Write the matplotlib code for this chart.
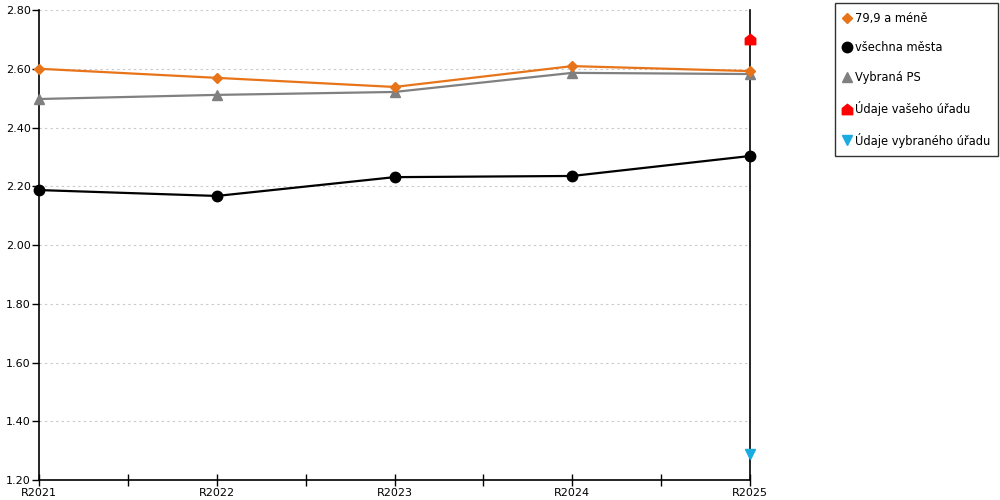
import matplotlib
matplotlib.use("Agg")
import matplotlib.pyplot as plt
from matplotlib.path import Path
from matplotlib.lines import Line2D
import numpy as np

categories = ["R2021", "R2022", "R2023", "R2024", "R2025"]
s_small = [2.60, 2.569, 2.538, 2.609, 2.592]
s_all = [2.187, 2.167, 2.231, 2.235, 2.303]
s_ps = [2.497, 2.511, 2.521, 2.586, 2.582]
your_office = [2.70]
sel_office = [1.289]
labels = ["79,9 a méně", "všechna města", "Vybraná PS", "Údaje vašeho úřadu", "Údaje vybraného úřadu"]

plt.rcParams['font.family'] = ['DejaVu Sans']
fig = plt.figure(figsize=(10, 5), dpi=100)
ax = fig.add_axes([0.039, 0.04, 0.711, 0.94])

x = np.arange(len(categories))
house = Path([(-1, -1), (1, -1), (1, 0.2), (0, 1), (-1, 0.2), (-1, -1)],
             [Path.MOVETO, Path.LINETO, Path.LINETO, Path.LINETO, Path.LINETO, Path.CLOSEPOLY])

c_or = "#E8741A"
c_gr = "#808080"
ax.plot(x, s_small, color=c_or, lw=1.6, marker="D", ms=5.5, zorder=4, clip_on=False)
ax.plot(x, s_all, color="black", lw=1.6, marker="o", ms=7.5, zorder=3, clip_on=False)
ax.plot(x, s_ps, color=c_gr, lw=1.6, marker="^", ms=7.5, zorder=3, clip_on=False)
ax.plot([x[-1]], your_office, ls="none", marker=house, ms=7.5, color="#FF0000", zorder=5, clip_on=False)
ax.plot([x[-1]], sel_office, ls="none", marker="v", ms=7.5, color="#1AABE0", zorder=5, clip_on=False)

ax.set_xlim(0, 4)
ax.set_ylim(1.2, 2.8)
ax.set_yticks(np.arange(1.2, 2.81, 0.2))
ax.set_yticklabels([f"{v:.2f}" for v in np.arange(1.2, 2.81, 0.2)])
ax.set_xticks(x)
ax.set_xticklabels(categories)
ax.set_xticks(np.arange(0.5, 4, 1), minor=True)
ax.tick_params(axis="x", which="both", direction="inout", length=9, width=1, labelsize=8, pad=1)
ax.tick_params(axis="y", direction="out", length=5, width=1, labelsize=8, pad=1)
ax.yaxis.grid(True, linestyle=(0, (2, 3)), color="#C8C8C8", lw=0.8)
ax.set_axisbelow(True)
ax.spines["top"].set_visible(False)
for s in ["left", "right", "bottom"]:
    ax.spines[s].set_color("black")
    ax.spines[s].set_linewidth(1.2)
ax.patch.set_alpha(0)

handles = [
    Line2D([], [], ls="none", marker="D", ms=5.5, color=c_or),
    Line2D([], [], ls="none", marker="o", ms=7.5, color="black"),
    Line2D([], [], ls="none", marker="^", ms=7.5, color=c_gr),
    Line2D([], [], ls="none", marker=house, ms=7.5, color="#FF0000"),
    Line2D([], [], ls="none", marker="v", ms=7.5, color="#1AABE0"),
]
leg = fig.legend(handles, labels, loc="upper left", bbox_to_anchor=(0.835, 0.994),
                 fontsize=8.3, frameon=True, fancybox=False, edgecolor="black",
                 handlelength=0.6, handletextpad=0.35, labelspacing=1.45,
                 borderpad=0.75, borderaxespad=0)
leg.get_frame().set_linewidth(1)

fig.savefig("out.png", dpi=100)
